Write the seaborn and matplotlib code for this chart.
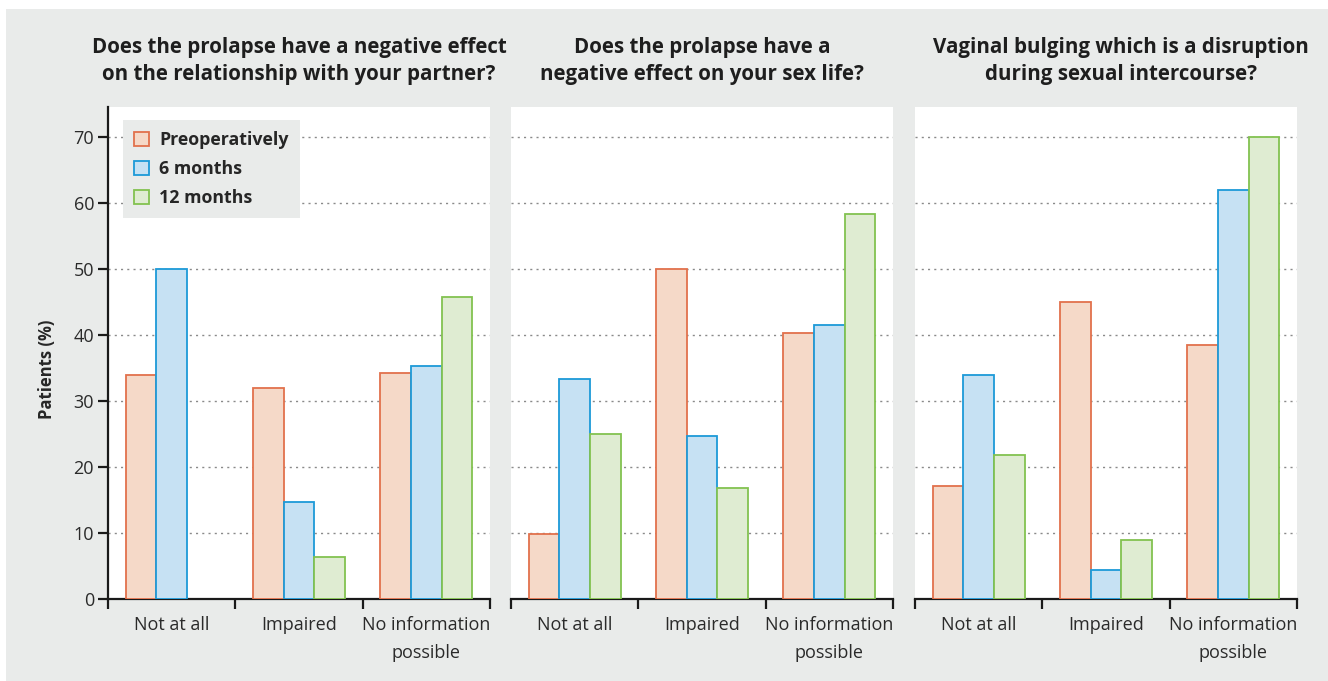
import matplotlib
matplotlib.use("Agg")
import matplotlib.pyplot as plt
from matplotlib.patches import Patch, Rectangle
import pandas as pd
import seaborn as sns

# categories and series
answers = ["Not at all", "Impaired", "No information\npossible"]
timepoints = ["Preoperatively", "6 months", "12 months"]
titles = [
    "Does the prolapse have a negative effect\non the relationship with your partner?",
    "Does the prolapse have a\nnegative effect on your sex life?",
    "Vaginal bulging which is a disruption\nduring sexual intercourse?",
]

# values per panel, rows = answers, cols = timepoints (patients %)
partner = [[34.0, 50.0, 0.0], [32.0, 14.7, 6.4], [34.2, 35.4, 45.8]]
sex_life = [[9.9, 33.3, 25.0], [50.0, 24.7, 16.8], [40.4, 41.6, 58.4]]
bulging = [[17.1, 34.0, 21.9], [45.0, 4.4, 8.9], [38.5, 62.0, 70.0]]
panels = [partner, sex_life, bulging]

yticks = [0, 10, 20, 30, 40, 50, 60, 70]

face_colors = ["#f5d9c8", "#c6e1f3", "#dfecd2"]
edge_colors = ["#e2714c", "#1c9ad8", "#82c250"]
bg = "#e9ebea"

sns.set_theme(style="white")
plt.rcParams["font.family"] = ["Open Sans", "DejaVu Sans"]

fig = plt.figure(figsize=(13.28, 6.81), dpi=100, facecolor="white")
W, H = 1328, 681
fig.patches.append(Rectangle((6 / W, 0), 1, 1 - 9 / H, transform=fig.transFigure,
                             facecolor=bg, edgecolor="none", zorder=-10))

lefts = [108, 511, 915]
width_px = 382
bottom_px, top_px = 599, 107
title_x = [0.5, 0.5, 0.54]

for i, vals in enumerate(panels):
    ax = fig.add_axes([lefts[i] / W, (H - bottom_px) / H, width_px / W,
                       (bottom_px - top_px) / H])
    rows = []
    for a, row in zip(answers, vals):
        for t, v in zip(timepoints, row):
            rows.append({"answer": a, "time": t, "value": v})
    df = pd.DataFrame(rows)
    sns.barplot(data=df, x="answer", y="value", hue="time", order=answers,
                hue_order=timepoints, palette=face_colors, width=0.72,
                saturation=1, legend=False, ax=ax, zorder=3)
    for cont, ec in zip(ax.containers, edge_colors):
        for bar in cont:
            if bar.get_height() <= 0:
                bar.set_visible(False)
            bar.set_edgecolor(ec)
            bar.set_linewidth(1.3)

    ax.set_facecolor("white")
    ax.set_xlim(-0.5, 2.5)
    ax.set_ylim(0, 74.6)
    ax.set_yticks(yticks)
    ax.yaxis.grid(True, linestyle=(0, (1.5, 3)), color="#8a8a8a", linewidth=1, zorder=0)
    ax.set_axisbelow(True)
    for s in ["top", "right"]:
        ax.spines[s].set_visible(False)
    ax.spines["bottom"].set_color("#1a1a1a")
    ax.spines["bottom"].set_linewidth(1.6)

    # boundary ticks on the x axis, labels at category centres
    ax.set_xticks([-0.5, 0.5, 1.5, 2.5])
    ax.set_xticklabels([])
    ax.set_xticks([0, 1, 2], minor=True)
    ax.set_xticklabels(answers, minor=True, fontsize=13, color="#2a2a2a",
                       linespacing=1.75)
    ax.tick_params(axis="x", which="major", length=7, width=1.6, color="#1a1a1a",
                   direction="out", bottom=True)
    ax.tick_params(axis="x", which="minor", length=0, pad=12, bottom=True)
    ax.set_xlabel("")

    if i == 0:
        ax.spines["left"].set_color("#1a1a1a")
        ax.spines["left"].set_linewidth(1.6)
        ax.tick_params(axis="y", length=7, width=1.6, color="#1a1a1a", left=True,
                       labelsize=13, labelcolor="#2a2a2a", pad=3)
        ax.set_ylabel("Patients (%)", fontsize=12, fontweight="bold")
        ax.yaxis.set_label_coords(-0.137, 0.467)
        handles = [Patch(facecolor=fc, edgecolor=ec, linewidth=1.3)
                   for fc, ec in zip(face_colors, edge_colors)]
        leg = ax.legend(handles, timepoints, loc="upper left",
                        bbox_to_anchor=(0.04, 0.974), frameon=True, fancybox=False,
                        handlelength=0.85, handleheight=0.85, handletextpad=0.55,
                        labelspacing=0.62, borderpad=0.62, borderaxespad=0,
                        prop={"weight": "bold", "size": 12.8})
        leg.get_frame().set_facecolor(bg)
        leg.get_frame().set_edgecolor("none")
        leg.get_frame().set_alpha(1)
        leg.set_zorder(5)
    else:
        ax.spines["left"].set_visible(False)
        ax.set_yticklabels([])
        ax.tick_params(axis="y", length=0, left=False)
        ax.set_ylabel("")

    ax.text(title_x[i], 1.093, titles[i], transform=ax.transAxes, ha="center",
            va="center", fontsize=14.8, fontweight="bold", color="#1e1e1e",
            linespacing=1.35)

fig.savefig("out.png", dpi=100, facecolor=fig.get_facecolor())
